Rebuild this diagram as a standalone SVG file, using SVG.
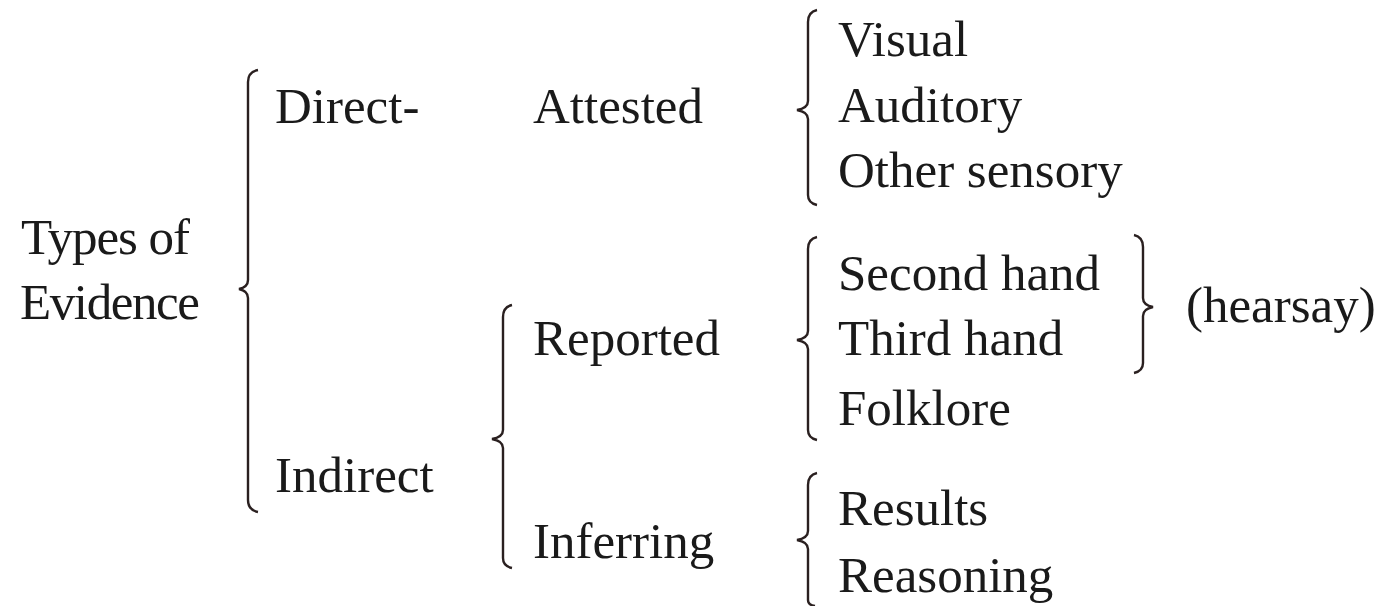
<svg xmlns="http://www.w3.org/2000/svg" width="1380" height="606" viewBox="0 0 1380 606">
<style>
text{font-family:"Liberation Serif","Times New Roman",serif;font-size:51px;fill:#1a1a1a}
.br{fill:none;stroke:#2a2020;stroke-width:2.4;stroke-linejoin:miter}
</style>
<rect width="1380" height="606" fill="#fff"/>
<g id="connectors">
<path class="br" d="M258,70 Q248,72 248,82 L248,280 Q248,287 239,289 Q248,291 248,298 L248,500 Q248,510 258,512"/>
<path class="br" d="M512,305 Q503,307 503,317 L503,430 Q503,437 492,439 Q503,441 503,448 L503,558 Q503,566 512,568"/>
<path class="br" d="M817,10 Q808,12 808,22 L808,101 Q808,108 797,110 Q808,112 808,119 L808,195 Q808,203 817,205"/>
<path class="br" d="M817,237 Q808,239 808,249 L808,331 Q808,338 797,340 Q808,342 808,349 L808,430 Q808,438 817,440"/>
<path class="br" d="M817,473 Q808,475 808,485 L808,531 Q808,538 797,540 Q808,542 808,549 L808,600 Q808,605 815,606"/>
<path class="br" d="M1134,235 Q1143,237 1143,247 L1143,298 Q1143,305 1153,307 Q1143,309 1143,316 L1143,363 Q1143,371 1134,373"/>
</g>
<g id="root"><text x="21" y="254" textLength="169">Types of</text><text x="20" y="319" textLength="180">Evidence</text></g>
<g id="direct"><text x="275" y="123">Direct-</text></g>
<g id="indirect"><text x="275" y="492">Indirect</text></g>
<g id="attested"><text x="533" y="123">Attested</text></g>
<g id="reported"><text x="533" y="355">Reported</text></g>
<g id="inferring"><text x="533" y="558">Inferring</text></g>
<g id="visual"><text x="838" y="56">Visual</text></g>
<g id="auditory"><text x="838" y="122">Auditory</text></g>
<g id="other"><text x="838" y="187">Other sensory</text></g>
<g id="second"><text x="838" y="290">Second hand</text></g>
<g id="third"><text x="838" y="355">Third hand</text></g>
<g id="folklore"><text x="838" y="425">Folklore</text></g>
<g id="results"><text x="838" y="525">Results</text></g>
<g id="reasoning"><text x="838" y="592">Reasoning</text></g>
<g id="hearsay"><text x="1186" y="322">(hearsay)</text></g>
</svg>
